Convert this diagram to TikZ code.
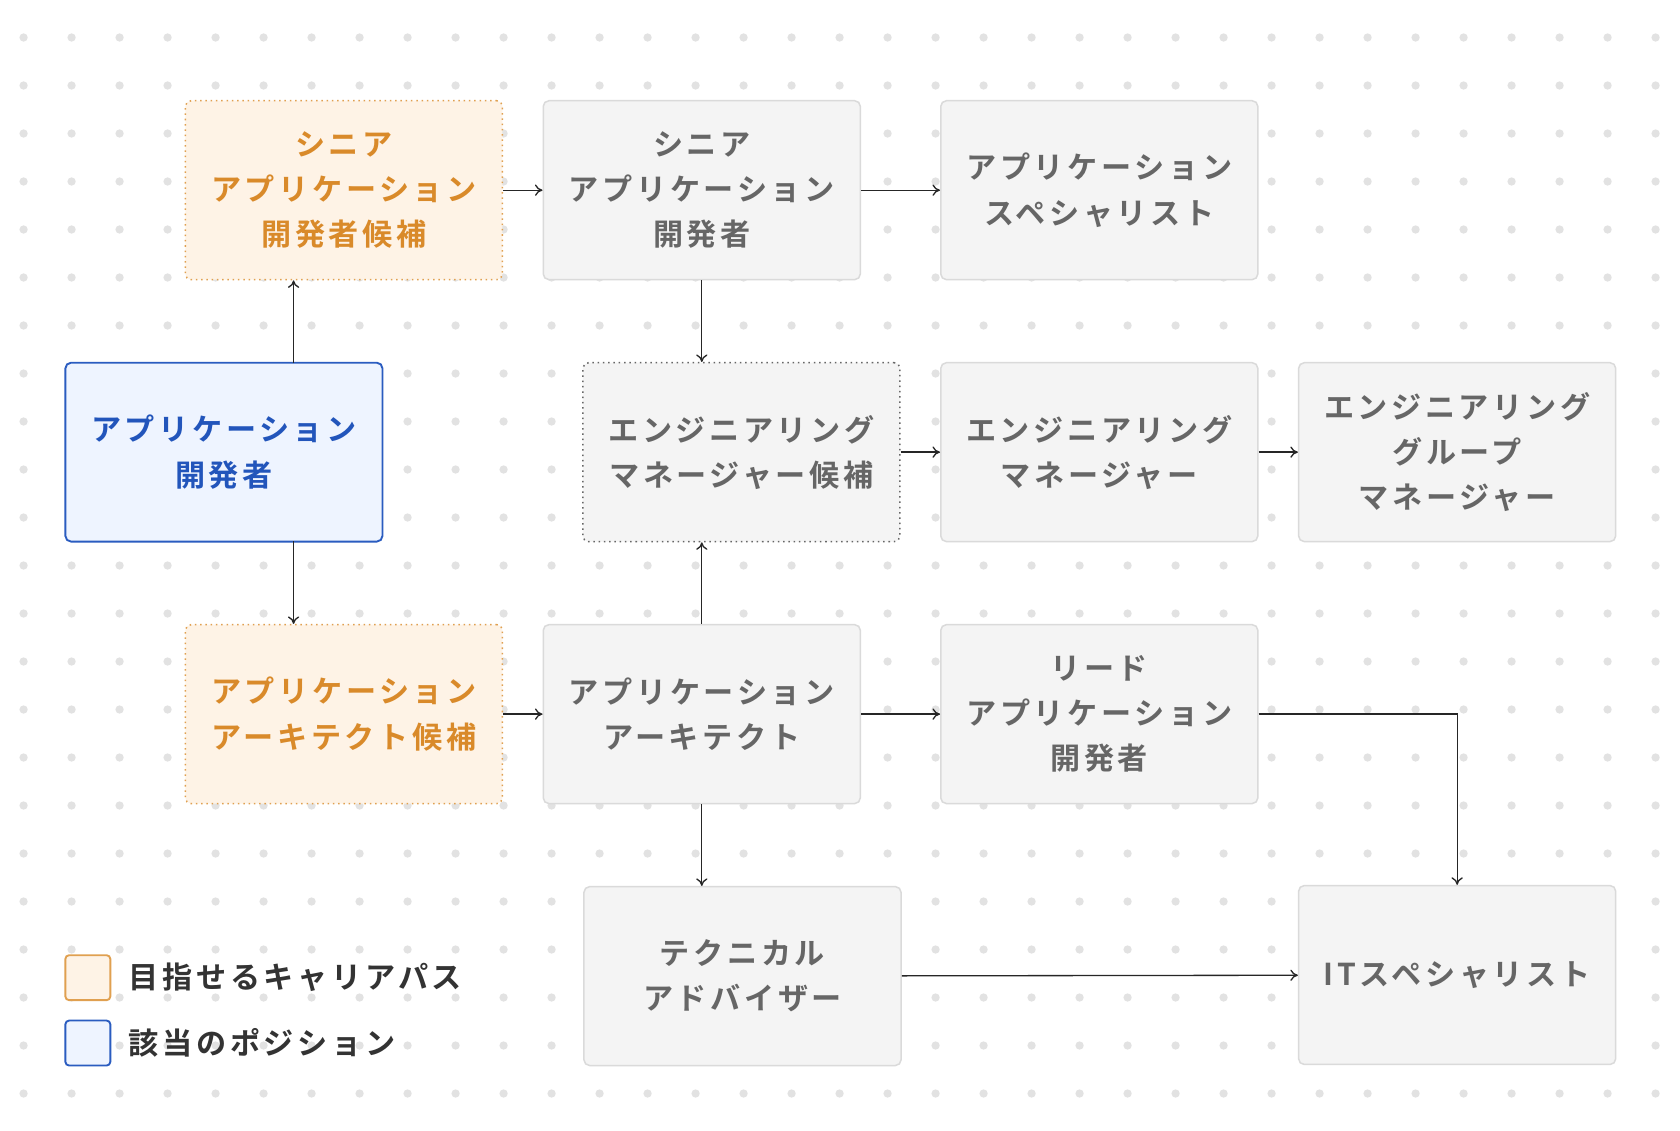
\documentclass[tikz,border=0pt]{standalone}
\usepackage{fontspec}
\setmainfont{Noto Sans CJK JP}[BoldFont=* Bold]
\newfontfamily\cjk{Noto Sans CJK JP Bold}[LetterSpace=12]
\usetikzlibrary{arrows.meta}
\definecolor{gfill}{HTML}{F4F4F4}
\definecolor{gline}{HTML}{DADADA}
\definecolor{gtext}{HTML}{666666}
\definecolor{ofill}{HTML}{FEF3E6}
\definecolor{oline}{HTML}{E0A050}
\definecolor{otext}{HTML}{D98A2A}
\definecolor{bfill}{HTML}{EEF4FF}
\definecolor{bline}{HTML}{2A5CC0}
\definecolor{btext}{HTML}{2255BB}
\definecolor{dotc}{HTML}{E2E2E2}
\begin{document}
\begin{tikzpicture}[x=0.02cm,y=-0.02cm,
 box/.style={draw=gline,fill=gfill,text=gtext,rounded corners=3pt,line width=0.8pt,minimum width=5.92cm,minimum height=3.34cm,inner sep=0pt,align=center,font=\cjk\fontsize{16}{24}\selectfont},
 cand/.style={box,draw=oline,fill=ofill,text=otext,dotted},
 cur/.style={box,draw=bline,fill=bfill,text=btext,line width=1pt},
 gdot/.style={box,draw=gtext,dotted},
 arr/.style={-{To[length=4pt,width=6pt]},line width=0.7pt,black!85}]
\useasboundingbox (0,0) rectangle (1568,1055);
\fill[white] (0,0) rectangle (1568,1055);
\foreach \i in {0,...,34}{\foreach \j in {0,...,22}{\fill[dotc] (22+44.8*\i,35+44.8*\j) circle (2.2pt);}}
\node[cand] (A) at (321,177.5) {シニア\\アプリケーション\\開発者候補};
\node[box] (B) at (655,177.5) {シニア\\アプリケーション\\開発者};
\node[box] (C) at (1026,177.5) {アプリケーション\\スペシャリスト};
\node[cur] (D) at (209,422) {アプリケーション\\開発者};
\node[gdot] (E) at (692,422) {エンジニアリング\\マネージャー候補};
\node[box] (F) at (1026,422) {エンジニアリング\\マネージャー};
\node[box] (G) at (1360,422) {エンジニアリング\\グループ\\マネージャー};
\node[cand] (H) at (321,666.5) {アプリケーション\\アーキテクト候補};
\node[box] (I) at (655,666.5) {アプリケーション\\アーキテクト};
\node[box] (J) at (1026,666.5) {リード\\アプリケーション\\開発者};
\node[box] (K) at (693,911) {テクニカル\\アドバイザー};
\node[box] (L) at (1360,910) {ITスペシャリスト};
\coordinate (Dt) at (274,339); \coordinate (Db) at (274,505);
\draw[arr] (Dt) -- (Dt|-A.south);
\draw[arr] (Db) -- (Db|-H.north);
\draw[arr] (A) -- (B);
\draw[arr] (B) -- (C);
\draw[arr] (B.south) -- (B.south|-E.north);
\draw[arr] (E) -- (F);
\draw[arr] (F) -- (G);
\draw[arr] (I.north) -- (I.north|-E.south);
\draw[arr] (H) -- (I);
\draw[arr] (I) -- (J);
\draw[arr] (J.east) -| (L.north);
\draw[arr] (I.south) -- (I.south|-K.north);
\draw[arr] (K) -- (L);
\node[draw=oline,fill=ofill,rounded corners=2pt,line width=1pt,minimum size=0.84cm,inner sep=0pt] (l1) at (82,912.5) {};
\node[draw=bline,fill=bfill,rounded corners=2pt,line width=1pt,minimum size=0.84cm,inner sep=0pt] (l2) at (82,973.5) {};
\node[anchor=west,text=black!80,font=\cjk\fontsize{16}{20}\selectfont,inner sep=0pt] (t1) at (120,912.5) {目指せるキャリアパス};
\node[anchor=west,text=black!80,font=\cjk\fontsize{16}{20}\selectfont,inner sep=0pt] (t2) at (120,973.5) {該当のポジション};
\end{tikzpicture}
\end{document}
